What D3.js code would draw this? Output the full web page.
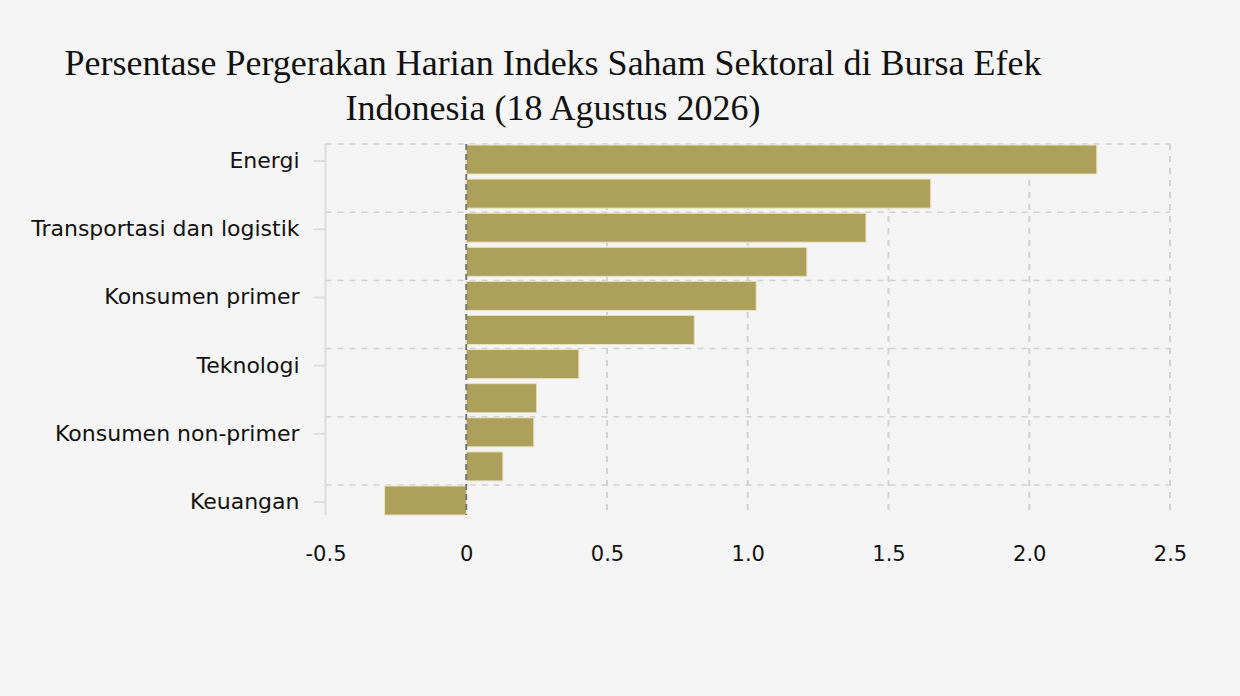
<!DOCTYPE html>
<html><head><meta charset="utf-8">
<script src="https://cdn.jsdelivr.net/npm/d3@7"></script>
<style>
html,body{margin:0;padding:0;background:#f5f5f5;}
svg{display:block;}
</style></head>
<body>
<script>
const categories = ["Energi","Barang baku","Transportasi dan logistik","Perindustrian","Konsumen primer","Kesehatan","Teknologi","Infrastruktur","Konsumen non-primer","Properti dan real estat","Keuangan"];
const values = [2.24, 1.65, 1.42, 1.21, 1.03, 0.81, 0.40, 0.25, 0.24, 0.13, -0.29];
const xTicks = [-0.5, 0, 0.5, 1.0, 1.5, 2.0, 2.5];
const xTickLabels = ["-0.5","0","0.5","1.0","1.5","2.0","2.5"];
const titleLines = ["Persentase Pergerakan Harian Indeks Saham Sektoral di Bursa Efek","Indonesia (18 Agustus 2026)"];

const W = 1240, H = 696;
const svg = d3.select("body").append("svg").attr("width", W).attr("height", H);
svg.append("rect").attr("width", W).attr("height", H).attr("fill", "#f5f5f5");

const plotTop = 144, plotBottom = 515;
const x = d3.scaleLinear().domain([-0.5, 2.5]).range([325.5, 1170]);
const y = d3.scaleBand().domain(categories).range([plotTop, plotBottom]).paddingInner(0.12).paddingOuter(0);
const step = y.step();
const yTick = d3.scaleBand().domain(categories).range([plotTop, plotTop + step * categories.length]).padding(0);

// title
svg.append("g").selectAll("text").data(titleLines).join("text")
  .attr("x", 553).attr("y", (d,i) => 75 + i*45)
  .attr("text-anchor", "middle")
  .attr("font-family", "'Liberation Serif','Times New Roman',serif")
  .attr("font-size", 36).attr("fill", "#111")
  .text(d => d);

const labeled = categories.filter((d,i) => i % 2 === 0);

// horizontal grid
svg.append("g").selectAll("line").data(labeled).join("line")
  .attr("x1", x(-0.5)).attr("x2", x(2.5))
  .attr("y1", d => y(d)).attr("y2", d => y(d))
  .attr("stroke", "#d2d2d2").attr("stroke-width", 1.5).attr("stroke-dasharray", "6,6");

// vertical grid
svg.append("g").selectAll("line").data(xTicks.filter(t => t > 0)).join("line")
  .attr("x1", d => x(d)).attr("x2", d => x(d))
  .attr("y1", plotTop).attr("y2", plotBottom)
  .attr("stroke", "#d2d2d2").attr("stroke-width", 2).attr("stroke-dasharray", "6,6");

// bars
svg.append("g").selectAll("rect").data(categories).join("rect")
  .attr("x", (d,i) => x(Math.min(0, values[i])))
  .attr("width", (d,i) => Math.abs(x(values[i]) - x(0)))
  .attr("y", d => y(d) + 1)
  .attr("height", y.bandwidth() - 1)
  .attr("fill", "#ada05a")
  .attr("stroke", "#e9e3c2").attr("stroke-width", 1);

// zero line
svg.append("line")
  .attr("x1", x(0)).attr("x2", x(0)).attr("y1", plotTop).attr("y2", plotBottom)
  .attr("stroke", "#777").attr("stroke-width", 2).attr("stroke-dasharray", "6,4");

// y axis
const yAxis = d3.axisLeft(yTick).tickValues(labeled).tickSize(12).tickPadding(14);
const gy = svg.append("g").attr("transform", `translate(${x(-0.5)},0)`).call(yAxis);
gy.select(".domain").attr("stroke", "#dddddd").attr("stroke-width", 2).attr("d", `M0,${plotTop}V${plotBottom}`);
gy.selectAll(".tick line").attr("stroke", "#dddddd").attr("stroke-width", 2);
gy.selectAll(".tick text").attr("font-family", "'DejaVu Sans',Verdana,sans-serif").attr("font-size", 22).attr("fill", "#111");

// x axis
const xAxis = d3.axisBottom(x).tickValues(xTicks).tickFormat((d,i) => xTickLabels[i]).tickSize(0).tickPadding(31);
const gx = svg.append("g").attr("transform", `translate(0,${plotBottom})`).call(xAxis);
gx.select(".domain").remove();
gx.selectAll(".tick text").attr("font-family", "'DejaVu Sans',Verdana,sans-serif").attr("font-size", 21).attr("fill", "#111");
</script>
</body></html>
